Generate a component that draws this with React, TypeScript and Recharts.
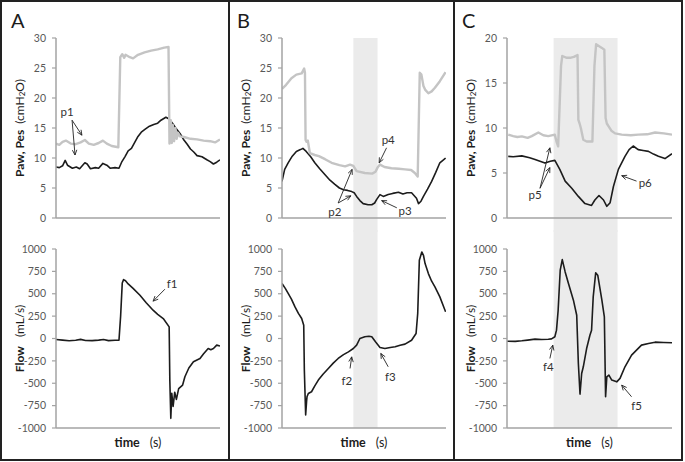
import {
  LineChart,
  Line,
  XAxis,
  YAxis,
  ReferenceArea,
  ReferenceLine,
  ReferenceDot,
} from "recharts";

const FONT = "Lato, 'Open Sans', sans-serif";
const INK = "#1c1c1c";
const PAW = "#c4c4c4";
const SHADE = "#ebebeb";
const AXIS = "#a3a3a3";
const TICK = "#595959";

type Pt = [number, number];

// panel A: pressure (Paw grey, Pes black) and flow, time in arbitrary units
const aPaw: Pt[] = [
  [0, 12.4], [0.1, 12.2], [0.2, 12.7], [0.3, 12.9], [0.45, 12.4], [0.6, 12.3],
  [0.75, 12.6], [0.88, 13.0], [1.0, 12.4], [1.15, 12.2], [1.3, 12.5], [1.43, 12.9],
  [1.55, 12.4], [1.7, 12.0], [1.9, 11.8], [1.96, 26.8], [2.02, 27.3], [2.08, 26.7],
  [2.12, 27.2], [2.25, 26.8], [2.35, 26.6], [2.5, 27.2], [2.7, 27.6], [2.9, 27.9],
  [3.1, 28.1], [3.3, 28.4], [3.43, 28.5], [3.46, 12.4], [3.5, 16.3], [3.53, 12.5],
  [3.56, 15.5], [3.6, 12.8], [3.64, 15.0], [3.68, 13.2], [3.72, 14.2], [3.78, 13.6],
  [3.9, 13.5], [4.1, 13.2], [4.3, 13.1], [4.5, 12.9], [4.7, 12.8], [4.85, 12.6], [5.0, 13.1],
];
const aPes: Pt[] = [
  [0, 8.5], [0.1, 8.4], [0.2, 8.7], [0.28, 9.6], [0.35, 8.8], [0.5, 8.3], [0.62, 8.5],
  [0.72, 8.2], [0.88, 9.2], [0.95, 9.0], [1.05, 8.2], [1.2, 8.4], [1.3, 8.3], [1.43, 9.1],
  [1.55, 8.8], [1.65, 8.3], [1.8, 8.4], [1.92, 8.3], [2.0, 9.3], [2.1, 10.2], [2.2, 11.2],
  [2.3, 11.6], [2.4, 12.6], [2.5, 13.6], [2.6, 14.3], [2.72, 14.8], [2.85, 15.3],
  [2.98, 15.6], [3.1, 15.8], [3.2, 16.3], [3.35, 16.8], [3.45, 16.5], [3.55, 15.8],
  [3.65, 15.0], [3.78, 14.1], [3.9, 13.0], [4.0, 12.3], [4.1, 11.5], [4.2, 11.0],
  [4.3, 10.4], [4.45, 10.2], [4.6, 9.7], [4.7, 9.4], [4.8, 9.0], [4.9, 9.3], [5.0, 9.7],
];
const aFlow: Pt[] = [
  [0, -11], [0.2, -18], [0.4, -25], [0.6, -20], [0.75, -10], [0.9, -22], [1.1, -24],
  [1.3, -18], [1.45, -12], [1.6, -24], [1.8, -20], [1.92, -19], [1.97, 250], [2.02, 620],
  [2.06, 658], [2.12, 645], [2.2, 610], [2.35, 560], [2.56, 483], [2.75, 400], [2.96, 316],
  [3.1, 270], [3.27, 223], [3.45, 130], [3.47, -465], [3.5, -892], [3.53, -613],
  [3.57, -760], [3.62, -600], [3.67, -680], [3.74, -560], [3.8, -540],
  [3.86, -520], [3.93, -427], [4.05, -330], [4.19, -260], [4.39, -223], [4.5, -170],
  [4.64, -112], [4.72, -125], [4.8, -112], [4.9, -74], [5.0, -85],
];

// panel B
const bPaw: Pt[] = [
  [0, 21.5], [0.1, 22.2], [0.23, 23.3], [0.35, 23.9], [0.48, 24.1], [0.54, 24.9],
  [0.56, 24.2], [0.575, 13.0], [0.6, 12.7], [0.63, 12.9], [0.68, 10.8], [0.8, 10.5],
  [0.9, 10.3], [1.05, 9.8], [1.21, 9.2], [1.4, 8.8], [1.54, 8.6], [1.66, 8.9], [1.74, 8.7],
  [1.82, 7.8], [2.02, 7.5], [2.2, 7.4], [2.28, 7.7], [2.33, 8.4], [2.39, 8.9], [2.5, 8.5],
  [2.67, 8.3], [2.85, 8.2], [3.0, 8.1], [3.15, 8.0], [3.24, 7.5], [3.31, 6.9], [3.36, 24.2],
  [3.4, 23.9], [3.45, 22.0], [3.49, 21.4], [3.57, 20.8], [3.65, 21.1], [3.73, 21.7],
  [3.85, 22.8], [3.99, 24.3],
];
const bPes: Pt[] = [
  [0, 6.1], [0.065, 8.1], [0.15, 9.2], [0.25, 10.3], [0.35, 11.1], [0.45, 11.4],
  [0.51, 11.6], [0.59, 11.1], [0.7, 10.2], [0.8, 9.2], [0.92, 8.2], [1.05, 7.2],
  [1.17, 6.3], [1.29, 5.6], [1.4, 5.0], [1.5, 4.7], [1.6, 4.6], [1.7, 4.4], [1.76, 4.2],
  [1.82, 3.6], [1.9, 2.9], [1.98, 2.4], [2.1, 2.2], [2.19, 2.2], [2.26, 2.5], [2.31, 3.1],
  [2.39, 3.9], [2.47, 3.6], [2.59, 3.9], [2.7, 4.1], [2.84, 4.3], [2.95, 4.0], [3.05, 4.2],
  [3.16, 4.2], [3.28, 3.3], [3.33, 2.4], [3.39, 2.8], [3.45, 3.6], [3.55, 4.8], [3.65, 6.1],
  [3.75, 7.6], [3.85, 9.2], [3.99, 10.0],
];
const bFlow: Pt[] = [
  [0, 614], [0.08, 560], [0.154, 502], [0.23, 440], [0.317, 353], [0.4, 280], [0.48, 223],
  [0.53, 149], [0.545, -353], [0.577, -855], [0.6, -700], [0.61, -651], [0.642, -614],
  [0.72, -595], [0.8, -530], [0.886, -465], [1.0, -400], [1.13, -335], [1.25, -275],
  [1.37, -223], [1.5, -180], [1.62, -149], [1.74, -112], [1.82, -74], [1.9, 0], [2.02, 19],
  [2.12, 25], [2.19, 19], [2.28, -37], [2.39, -100], [2.51, -112], [2.64, -100],
  [2.76, -93], [2.88, -75], [3.0, -63], [3.16, -19], [3.27, 56], [3.31, 279], [3.35, 874],
  [3.41, 967], [3.45, 930], [3.49, 837], [3.57, 725], [3.65, 640], [3.73, 577],
  [3.85, 465], [3.99, 298],
];

// panel C
const cPaw: Pt[] = [
  [0.03, 9.26], [0.15, 9.1], [0.25, 9.0], [0.36, 9.07], [0.5, 8.9], [0.6, 9.1], [0.76, 9.5],
  [0.88, 9.2], [1.0, 9.1], [1.16, 9.26], [1.2, 8.5], [1.24, 7.96], [1.31, 16.9], [1.34, 18.0],
  [1.45, 17.8], [1.53, 17.8], [1.62, 17.9], [1.71, 18.1], [1.73, 10.9], [1.76, 10.5],
  [1.79, 10.0], [1.85, 8.7], [1.93, 8.5], [2.07, 8.5], [2.12, 16.9], [2.16, 19.3], [2.3, 18.9],
  [2.36, 18.7], [2.39, 11.1], [2.42, 10.5], [2.46, 10.2], [2.53, 9.7], [2.62, 9.4],
  [2.78, 9.26], [3.0, 9.2], [3.18, 9.26], [3.4, 9.3], [3.59, 9.5], [3.8, 9.4], [4.0, 9.26],
];
const cPes: Pt[] = [
  [0.03, 6.85], [0.15, 6.8], [0.36, 6.9], [0.55, 6.7], [0.68, 6.5], [0.8, 6.3], [0.92, 6.1],
  [1.05, 6.3], [1.16, 6.4], [1.28, 5.4], [1.41, 4.1], [1.57, 3.3], [1.73, 2.4], [1.89, 1.6],
  [2.05, 1.4], [2.13, 2.0], [2.23, 2.5], [2.34, 2.0], [2.42, 1.3], [2.5, 1.7], [2.58, 3.5],
  [2.7, 5.4], [2.86, 6.85], [2.96, 7.6], [3.06, 8.0], [3.18, 7.6], [3.3, 7.5], [3.43, 7.4],
  [3.55, 7.1], [3.67, 6.85], [3.83, 6.6], [4.0, 7.15],
];
const cFlow: Pt[] = [
  [0.0, -30], [0.2, -32], [0.36, -26], [0.5, -18], [0.68, -7], [0.84, -11], [1.0, -8],
  [1.08, -4], [1.16, 19], [1.2, 93], [1.24, 316], [1.29, 763], [1.34, 882], [1.41, 744],
  [1.49, 614], [1.61, 428], [1.69, 260], [1.73, -279], [1.77, -621], [1.81, -391],
  [1.85, -316], [1.93, -112], [2.01, 37], [2.05, 93], [2.09, 465], [2.15, 733], [2.2, 707],
  [2.3, 428], [2.36, 242], [2.39, -651], [2.42, -428], [2.47, -409], [2.54, -465],
  [2.66, -484], [2.74, -446], [2.86, -316], [3.02, -186], [3.26, -74], [3.43, -56],
  [3.59, -41], [3.8, -45], [4.0, -48],
];

const ticksP30 = [0, 5, 10, 15, 20, 25, 30];
const ticksP20 = [0, 5, 10, 15, 20];
const ticksFlow = [-1000, -750, -500, -250, 0, 250, 500, 750, 1000];
const ticksTimeA = [0, 1, 2, 3, 4, 5];
const ticksTimeBC = [0, 1, 2, 3, 4];

// shaded time windows (B, C)
const windowB: Pt = [1.74, 2.33];
const windowC: Pt = [1.13, 2.68];

type Note = { text: string; at: Pt; arrows: [number, number, number, number][] };
const notesA1: Note[] = [
  { text: "p1", at: [0.34, 17.7], arrows: [[0.49, 16.3, 0.79, 13.8], [0.49, 16.3, 0.58, 10.5]] },
];
const notesA2: Note[] = [{ text: "f1", at: [3.54, 618], arrows: [[3.32, 551, 2.96, 417]] }];
const notesB1: Note[] = [
  { text: "p4", at: [2.59, 13.1], arrows: [[2.55, 11.7, 2.37, 9.2]] },
  { text: "p2", at: [1.29, 1.1], arrows: [[1.37, 2.5, 1.71, 8.1], [1.37, 2.5, 1.68, 3.7]] },
  { text: "p3", at: [3.0, 1.3], arrows: [[2.8, 1.7, 2.43, 2.9]] },
];
const notesB2: Note[] = [
  { text: "f2", at: [1.58, -465], arrows: [[1.66, -335, 1.7, -205]] },
  { text: "f3", at: [2.64, -428], arrows: [[2.59, -316, 2.41, -167]] },
];
const notesC1: Note[] = [
  { text: "p5", at: [0.68, 2.6], arrows: [[0.8, 3.3, 1.04, 7.8], [0.8, 3.3, 1.04, 5.6]] },
  { text: "p6", at: [3.35, 3.9], arrows: [[3.14, 4.1, 2.78, 4.7]] },
];
const notesC2: Note[] = [
  { text: "f4", at: [1.0, -316], arrows: [[1.04, -223, 1.11, -74]] },
  { text: "f5", at: [3.14, -744], arrows: [[3.02, -651, 2.78, -521]] },
];

const toRows = (pts: Pt[]) => pts.map(([t, v]) => ({ t, v }));

const Arrow = (p: any) => {
  const { x1, y1, x2, y2 } = p;
  const a = Math.atan2(y2 - y1, x2 - x1);
  const L = 5.5;
  const s = 0.42;
  const hx1 = x2 - L * Math.cos(a - s);
  const hy1 = y2 - L * Math.sin(a - s);
  const hx2 = x2 - L * Math.cos(a + s);
  const hy2 = y2 - L * Math.sin(a + s);
  return (
    <g stroke="#222" strokeWidth={0.9} fill="none">
      <line x1={x1} y1={y1} x2={x2} y2={y2} />
      <path d={`M${hx1},${hy1}L${x2},${y2}L${hx2},${hy2}`} />
    </g>
  );
};

const PressureTitle = ({ viewBox }: any) => {
  const cx = viewBox.x + viewBox.width - 37;
  const cy = viewBox.y + viewBox.height / 2;
  return (
    <text
      x={cx}
      y={cy}
      transform={`rotate(-90, ${cx}, ${cy})`}
      textAnchor="middle"
      dominantBaseline="central"
      fontFamily={FONT}
      fontSize={12}
      fill={INK}
    >
      <tspan fontWeight="bold">Paw, Pes</tspan>
      <tspan dx={6}>(cmH</tspan>
      <tspan fontSize={8} dy={3}>2</tspan>
      <tspan dy={-3}>O)</tspan>
    </text>
  );
};

const FlowTitle = ({ viewBox }: any) => {
  const cx = viewBox.x + viewBox.width - 37;
  const cy = viewBox.y + viewBox.height / 2;
  return (
    <text
      x={cx}
      y={cy}
      transform={`rotate(-90, ${cx}, ${cy})`}
      textAnchor="middle"
      dominantBaseline="central"
      fontFamily={FONT}
      fontSize={12}
      fill={INK}
    >
      <tspan fontWeight="bold">Flow</tspan>
      <tspan dx={9}>(mL/s)</tspan>
    </text>
  );
};

const TimeTitle = ({ viewBox }: any) => (
  <text
    x={viewBox.x + viewBox.width / 2}
    y={viewBox.y + 19}
    textAnchor="middle"
    fontFamily={FONT}
    fontSize={12.5}
    fill={INK}
  >
    <tspan fontWeight="bold">time</tspan>
    <tspan dx={10}>(s)</tspan>
  </text>
);

type Series = { pts: Pt[]; color: string; w: number };

type PlotProps = {
  left: number;
  top: number;
  width: number;
  height: number;
  mt: number;
  mr: number;
  yw: number;
  xh: number;
  xMax: number;
  xTicks: number[];
  yDomain: Pt;
  yTicks: number[];
  series: Series[];
  notes: Note[];
  shade?: [number, number, number, number];
  flow?: boolean;
};

function Plot(p: PlotProps) {
  return (
    <div style={{ position: "absolute", left: p.left, top: p.top }}>
      <LineChart
        width={p.width}
        height={p.height}
        margin={{ top: p.mt, right: p.mr, bottom: 0, left: 0 }}
      >
        {p.shade && (
          <ReferenceArea
            x1={p.shade[0]}
            x2={p.shade[1]}
            y1={p.shade[2]}
            y2={p.shade[3]}
            fill={SHADE}
            fillOpacity={1}
            stroke="none"
            ifOverflow="visible"
          />
        )}
        <XAxis
          type="number"
          dataKey="t"
          domain={[0, p.xMax]}
          ticks={p.xTicks}
          tick={false}
          tickSize={3}
          height={p.xh}
          allowDataOverflow
          axisLine={{ stroke: AXIS, strokeWidth: 1.5 }}
          tickLine={{ stroke: AXIS, strokeWidth: 1.2 }}
          label={p.flow ? { content: TimeTitle } : undefined}
        />
        <YAxis
          type="number"
          domain={p.yDomain}
          ticks={p.yTicks}
          width={p.yw}
          tickSize={4}
          tickMargin={6}
          allowDataOverflow
          axisLine={{ stroke: AXIS, strokeWidth: 1.5 }}
          tickLine={{ stroke: AXIS, strokeWidth: 1.2 }}
          tick={{ fontSize: 10.5, fill: TICK, fontFamily: FONT }}
          label={{ content: p.flow ? FlowTitle : PressureTitle }}
        />
        {p.series.map((s, i) => (
          <Line
            key={i}
            data={toRows(s.pts)}
            dataKey="v"
            type="linear"
            stroke={s.color}
            strokeWidth={s.w}
            strokeLinejoin="round"
            dot={false}
            activeDot={false}
            isAnimationActive={false}
          />
        ))}
        {p.notes.map((n) =>
          n.arrows.map((a, j) => (
            <ReferenceLine
              key={n.text + j}
              segment={[
                { x: a[0], y: a[1] },
                { x: a[2], y: a[3] },
              ]}
              ifOverflow="visible"
              shape={Arrow}
            />
          ))
        )}
        {p.notes.map((n) => (
          <ReferenceDot
            key={n.text}
            x={n.at[0]}
            y={n.at[1]}
            r={0}
            ifOverflow="visible"
            shape={(d: any) => (
              <text
                x={d.cx}
                y={d.cy}
                textAnchor="middle"
                dominantBaseline="central"
                fontFamily={FONT}
                fontSize={11.5}
                fill="#333"
              >
                {n.text}
              </text>
            )}
          />
        ))}
      </LineChart>
    </div>
  );
}

// Pes first, Paw drawn on top of it
const pressureSeries = (paw: Pt[], pes: Pt[]): Series[] => [
  { pts: pes, color: INK, w: 1.6 },
  { pts: paw, color: PAW, w: 2.4 },
];
const flowSeries = (flow: Pt[]): Series[] => [{ pts: flow, color: INK, w: 1.6 }];

export default function App() {
  return (
    <div
      style={{
        position: "absolute",
        left: 0,
        top: 0,
        width: 685,
        height: 462,
        background: "#fff",
        overflow: "hidden",
      }}
    >
      {/* A */}
      <Plot left={0} top={0} width={229} height={232} mt={38} mr={9} yw={56} xh={14}
        xMax={5} xTicks={ticksTimeA} yDomain={[0, 30]} yTicks={ticksP30}
        series={pressureSeries(aPaw, aPes)} notes={notesA1} />
      <Plot left={0} top={230} width={229} height={230} mt={19} mr={9} yw={56} xh={32}
        xMax={5} xTicks={ticksTimeA} yDomain={[-1000, 1000]} yTicks={ticksFlow}
        series={flowSeries(aFlow)} notes={notesA2} flow />
      {/* B */}
      <Plot left={229} top={0} width={225} height={232} mt={38} mr={8} yw={53} xh={14}
        xMax={4} xTicks={ticksTimeBC} yDomain={[0, 30]} yTicks={ticksP30}
        series={pressureSeries(bPaw, bPes)} notes={notesB1}
        shade={[windowB[0], windowB[1], -3, 30]} />
      <Plot left={229} top={230} width={225} height={230} mt={19} mr={8} yw={53} xh={32}
        xMax={4} xTicks={ticksTimeBC} yDomain={[-1000, 1000]} yTicks={ticksFlow}
        series={flowSeries(bFlow)} notes={notesB2} flow
        shade={[windowB[0], windowB[1], -1000, 1300]} />
      {/* C */}
      <Plot left={454} top={0} width={231} height={232} mt={38} mr={13} yw={53} xh={14}
        xMax={4} xTicks={ticksTimeBC} yDomain={[0, 20]} yTicks={ticksP20}
        series={pressureSeries(cPaw, cPes)} notes={notesC1}
        shade={[windowC[0], windowC[1], -2, 20]} />
      <Plot left={454} top={230} width={231} height={230} mt={19} mr={13} yw={53} xh={32}
        xMax={4} xTicks={ticksTimeBC} yDomain={[-1000, 1000]} yTicks={ticksFlow}
        series={flowSeries(cFlow)} notes={notesC2} flow
        shade={[windowC[0], windowC[1], -1000, 1300]} />

      <svg
        width={685}
        height={462}
        style={{ position: "absolute", left: 0, top: 0, pointerEvents: "none" }}
      >
        <rect x={1} y={1} width={681} height={459} fill="none" stroke="#222" strokeWidth={2} />
        <line x1={229} y1={1} x2={229} y2={460} stroke="#222" strokeWidth={2} />
        <line x1={454} y1={1} x2={454} y2={460} stroke="#222" strokeWidth={2} />
        <g fontFamily={FONT} fontSize={20} fill={INK}>
          <text x={11} y={28}>A</text>
          <text x={237} y={28}>B</text>
          <text x={462} y={28}>C</text>
        </g>
      </svg>
    </div>
  );
}
